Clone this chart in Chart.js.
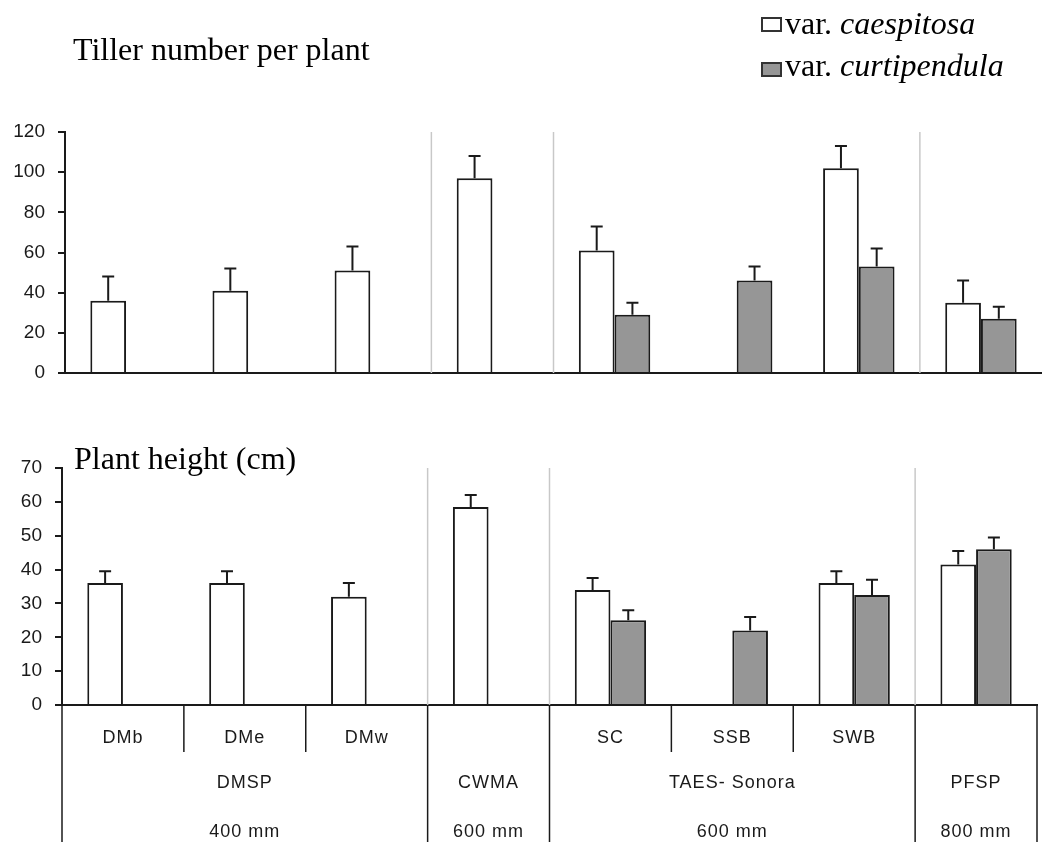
<!DOCTYPE html>
<html>
<head>
<meta charset="utf-8">
<script src="https://cdn.jsdelivr.net/npm/chart.js@4.4.1/dist/chart.umd.min.js"></script>
<style>
    body { margin: 0; background: #fff; width: 1042px; height: 842px; position: relative; overflow: hidden; }
    .wrap { position: absolute; left: 0; width: 1042px; }
    #topWrap { top: 0; height: 400px; }
    #botWrap { top: 400px; height: 442px; }
    .serif { position: absolute; font-family: "Times New Roman", "Liberation Serif", serif; font-size: 32px; line-height: 32px; color: #000; white-space: nowrap; }
    .key { position: absolute; box-sizing: border-box; width: 21px; height: 15px; border: 2px solid #333; }
</style>
</head>
<body>
<div class="wrap" id="topWrap"><canvas id="tillerChart" width="1042" height="400"></canvas></div>
<div class="wrap" id="botWrap"><canvas id="heightChart" width="1042" height="442"></canvas></div>

<div class="serif" style="left:73px;top:33px;">Tiller number per plant</div>
<div class="serif" style="left:74px;top:442px;">Plant height (cm)</div>

<div class="key" style="left:761px;top:17px;background:#fff;"></div>
<div class="serif" style="left:785px;top:7px;">var. <i>caespitosa</i></div>
<div class="key" style="left:761px;top:62px;background:#969696;"></div>
<div class="serif" style="left:785px;top:49px;">var. <i>curtipendula</i></div>

<script>
// sites along the x axis
const sites = ['DMb', 'DMe', 'DMw', 'CWMA', 'SC', 'SSB', 'SWB', 'PFSP'];
const siteLabels = ['DMb', 'DMe', 'DMw', '', 'SC', 'SSB', 'SWB', ''];
const groups = ['DMSP', 'CWMA', 'TAES- Sonora', 'PFSP'];
const groupSize = [3, 1, 3, 1];
const rainfall = ['400 mm', '600 mm', '600 mm', '800 mm'];

// tiller number per plant
const tillerCaes = [36, 41, 51, 97, 61, null, 102, 35];
const tillerCaesErr = [12, 11, 12, 11, 12, null, 11, 11];
const tillerCurt = [null, null, null, null, 29, 46, 53, 27];
const tillerCurtErr = [null, null, null, null, 6, 7, 9, 6];

// plant height (cm)
const heightCaes = [36, 36, 32, 58.5, 34, null, 36, 41.5];
const heightCaesErr = [3.5, 3.5, 4, 3.5, 3.5, null, 3.5, 4];
const heightCurt = [null, null, null, null, 25, 22, 32.5, 46];
const heightCurtErr = [null, null, null, null, 3, 4, 4.5, 3.5];

const tillerTicks = [0, 20, 40, 60, 80, 100, 120];
const heightTicks = [0, 10, 20, 30, 40, 50, 60, 70];

const sansFont = '"Liberation Sans", Arial, sans-serif';

// index where a new site group starts
function groupStarts() {
    const starts = [];
    let n = 0;
    groupSize.forEach(s => { starts.push(n); n += s; });
    return starts;
}

function boundaryX(xs, i) {
    // x pixel between category i-1 and i
    if (i <= 0) return xs.left;
    if (i >= sites.length) return xs.right;
    return (xs.getPixelForValue(i - 1) + xs.getPixelForValue(i)) / 2;
}

const errorBars = {
    id: 'errorBars',
    afterDatasetsDraw(chart) {
        const ctx = chart.ctx;
        const ys = chart.scales.y;
        ctx.save();
        ctx.strokeStyle = '#1a1a1a';
        ctx.lineWidth = 2;
        chart.data.datasets.forEach((ds, di) => {
            const meta = chart.getDatasetMeta(di);
            ds.errors.forEach((e, i) => {
                if (e == null || ds.data[i] == null) return;
                const bar = meta.data[i];
                const y0 = ys.getPixelForValue(ds.data[i]);
                const y1 = ys.getPixelForValue(ds.data[i] + e);
                ctx.beginPath();
                ctx.moveTo(bar.x, y0);
                ctx.lineTo(bar.x, y1);
                ctx.moveTo(bar.x - 6, y1);
                ctx.lineTo(bar.x + 6, y1);
                ctx.stroke();
            });
        });
        ctx.restore();
    }
};

const separators = {
    id: 'separators',
    beforeDatasetsDraw(chart) {
        const ctx = chart.ctx;
        const xs = chart.scales.x;
        const area = chart.chartArea;
        ctx.save();
        ctx.strokeStyle = '#c8c8c8';
        ctx.lineWidth = 1.5;
        groupStarts().slice(1).forEach(i => {
            const x = boundaryX(xs, i);
            ctx.beginPath();
            ctx.moveTo(x, area.top);
            ctx.lineTo(x, area.bottom);
            ctx.stroke();
        });
        ctx.restore();
    }
};

// category table under the lower chart
const siteTable = {
    id: 'siteTable',
    afterDraw(chart) {
        const ctx = chart.ctx;
        const xs = chart.scales.x;
        const base = chart.chartArea.bottom;
        const H = chart.height;
        const starts = groupStarts();
        ctx.save();
        ctx.strokeStyle = '#1a1a1a';
        ctx.lineWidth = 1.5;
        for (let i = 0; i <= sites.length; i++) {
            const x = boundaryX(xs, i);
            const long = i === sites.length || starts.includes(i);
            ctx.beginPath();
            ctx.moveTo(x, base);
            ctx.lineTo(x, long ? H : base + 47);
            ctx.stroke();
        }
        ctx.fillStyle = '#1a1a1a';
        ctx.font = '18px ' + sansFont;
        ctx.letterSpacing = '1px';
        ctx.textAlign = 'center';
        ctx.textBaseline = 'middle';
        siteLabels.forEach((lab, i) => {
            if (lab) ctx.fillText(lab, xs.getPixelForValue(i), base + 33);
        });
        groups.forEach((g, gi) => {
            const cx = (boundaryX(xs, starts[gi]) + boundaryX(xs, starts[gi] + groupSize[gi])) / 2;
            ctx.fillText(g, cx, base + 78);
            ctx.fillText(rainfall[gi], cx, base + 127);
        });
        ctx.restore();
    }
};

function barChart(id, caes, caesErr, curt, curtErr, ticks, pad, yWidth, xHeight) {
    const ctx = document.getElementById(id).getContext('2d');
    return new Chart(ctx, {
        type: 'bar',
        data: {
            labels: sites,
            datasets: [
                {
                    label: 'var. caespitosa',
                    data: caes,
                    errors: caesErr,
                    backgroundColor: '#ffffff',
                    borderColor: '#1a1a1a',
                    borderWidth: 2
                },
                {
                    label: 'var. curtipendula',
                    data: curt,
                    errors: curtErr,
                    backgroundColor: '#969696',
                    borderColor: '#1a1a1a',
                    borderWidth: 2
                }
            ]
        },
        options: {
            responsive: false,
            animation: false,
            devicePixelRatio: 1,
            layout: { padding: pad },
            datasets: { bar: { categoryPercentage: 0.585, barPercentage: 1 } },
            plugins: { legend: { display: false }, tooltip: { enabled: false } },
            scales: {
                x: {
                    grid: { display: false },
                    ticks: { display: false },
                    border: { color: '#1a1a1a', width: 2 },
                    afterFit: s => { s.height = xHeight; }
                },
                y: {
                    min: 0,
                    max: ticks[ticks.length - 1],
                    afterBuildTicks: s => { s.ticks = ticks.map(v => ({ value: v })); },
                    grid: { drawOnChartArea: false, tickLength: 7, color: '#1a1a1a', lineWidth: 2 },
                    border: { color: '#1a1a1a', width: 2 },
                    ticks: { font: { family: sansFont, size: 19 }, color: '#1a1a1a', padding: 13 },
                    afterFit: s => { s.width = yWidth; }
                }
            }
        },
        plugins: id === 'heightChart' ? [separators, errorBars, siteTable] : [separators, errorBars]
    });
}

document.addEventListener('DOMContentLoaded', () => {
    barChart('tillerChart', tillerCaes, tillerCaesErr, tillerCurt, tillerCurtErr, tillerTicks,
        { top: 132, right: 0, bottom: 0, left: 0 }, 65, 27);
    barChart('heightChart', heightCaes, heightCaesErr, heightCurt, heightCurtErr, heightTicks,
        { top: 68, right: 5, bottom: 0, left: 0 }, 62, 137);
});
</script>
</body>
</html>
